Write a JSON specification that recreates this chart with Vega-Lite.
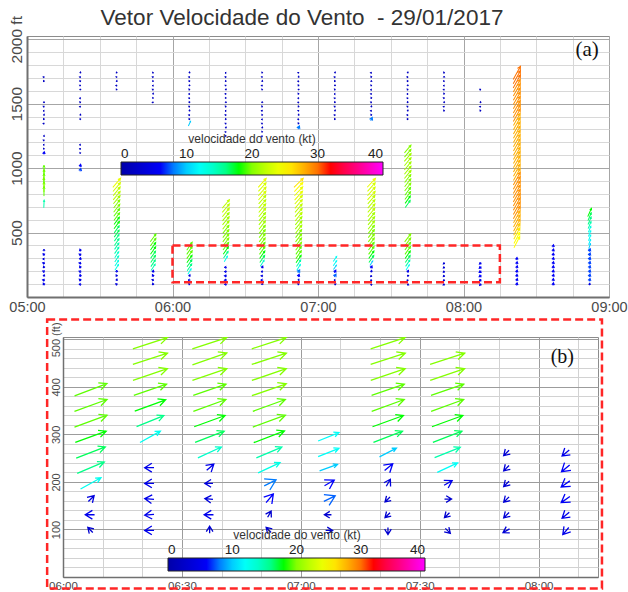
{
  "$schema": "https://vega.github.io/schema/vega-lite/v6.json",
  "background": "white",
  "padding": {"left": 6, "top": 6, "right": 0, "bottom": 0},
  "spacing": 3,
  "config": {
    "font": "Liberation Sans",
    "view": {"stroke": "#8c8c8c", "strokeWidth": 1},
    "axis": {"ticks": false, "labelFlush": false, "labelOverlap": false, "labelBound": false, "labelColor": "#4a4a4a", "domainColor": "#707070"}
  },
  "data": {
    "format": {"parse": {"t": "utc:'%H:%M'"}},
    "values": [
      {"t":"05:07","h":98,"s":5,"d":150},{"t":"05:07","h":131,"s":5,"d":100},{"t":"05:07","h":164,"s":4,"d":200},{"t":"05:07","h":197,"s":5,"d":120},{"t":"05:07","h":230,"s":4,"d":160},{"t":"05:07","h":262,"s":5,"d":110},{"t":"05:07","h":295,"s":4,"d":90},{"t":"05:07","h":328,"s":5,"d":140},{"t":"05:07","h":361,"s":4,"d":180},
      {"t":"05:07","h":722,"s":15,"d":185},{"t":"05:07","h":820,"s":19,"d":180},{"t":"05:07","h":853,"s":20,"d":180},{"t":"05:07","h":886,"s":20,"d":178},{"t":"05:07","h":919,"s":19,"d":180},{"t":"05:07","h":951,"s":20,"d":182},{"t":"05:07","h":984,"s":19,"d":180},
      {"t":"05:07","h":1115,"s":6,"d":200},{"t":"05:07","h":1148,"s":2,"d":150},{"t":"05:07","h":1181,"s":2,"d":90},{"t":"05:07","h":1214,"s":2,"d":120},{"t":"05:07","h":1247,"s":2,"d":200},{"t":"05:07","h":1345,"s":2,"d":100},{"t":"05:07","h":1378,"s":2,"d":150},{"t":"05:07","h":1411,"s":2,"d":200},{"t":"05:07","h":1444,"s":2,"d":90},{"t":"05:07","h":1476,"s":2,"d":120},{"t":"05:07","h":1509,"s":2,"d":180},{"t":"05:07","h":1673,"s":2,"d":150},{"t":"05:07","h":1706,"s":2,"d":100},
      {"t":"05:22","h":98,"s":5,"d":90},{"t":"05:22","h":131,"s":5,"d":130},{"t":"05:22","h":164,"s":5,"d":170},{"t":"05:22","h":197,"s":5,"d":110},{"t":"05:22","h":230,"s":5,"d":150},{"t":"05:22","h":262,"s":5,"d":100},{"t":"05:22","h":295,"s":5,"d":200},{"t":"05:22","h":328,"s":5,"d":120},{"t":"05:22","h":361,"s":5,"d":160},
      {"t":"05:22","h":984,"s":7,"d":210},{"t":"05:22","h":1017,"s":6,"d":200},{"t":"05:22","h":1115,"s":2,"d":150},{"t":"05:22","h":1148,"s":2,"d":120},{"t":"05:22","h":1181,"s":2,"d":90},{"t":"05:22","h":1378,"s":2,"d":160},{"t":"05:22","h":1411,"s":2,"d":200},{"t":"05:22","h":1476,"s":2,"d":110},{"t":"05:22","h":1509,"s":2,"d":140},{"t":"05:22","h":1542,"s":2,"d":90},{"t":"05:22","h":1608,"s":2,"d":180},{"t":"05:22","h":1640,"s":2,"d":120},{"t":"05:22","h":1673,"s":2,"d":150},{"t":"05:22","h":1706,"s":2,"d":100},{"t":"05:22","h":1739,"s":2,"d":200},
      {"t":"05:37","h":98,"s":4,"d":120},{"t":"05:37","h":131,"s":4,"d":200},{"t":"05:37","h":164,"s":4,"d":150},{"t":"05:37","h":197,"s":5,"d":180},
      {"t":"05:37","h":230,"s":13,"d":245},{"t":"05:37","h":262,"s":13,"d":246},{"t":"05:37","h":295,"s":14,"d":247},{"t":"05:37","h":328,"s":14,"d":248},{"t":"05:37","h":361,"s":15,"d":248},{"t":"05:37","h":394,"s":15,"d":249},{"t":"05:37","h":426,"s":16,"d":249},{"t":"05:37","h":459,"s":16,"d":250},{"t":"05:37","h":492,"s":17,"d":250},{"t":"05:37","h":525,"s":17,"d":250},{"t":"05:37","h":558,"s":18,"d":251},{"t":"05:37","h":591,"s":18,"d":251},{"t":"05:37","h":623,"s":19,"d":251},{"t":"05:37","h":656,"s":19,"d":252},{"t":"05:37","h":689,"s":20,"d":252},{"t":"05:37","h":722,"s":20,"d":252},{"t":"05:37","h":755,"s":21,"d":253},{"t":"05:37","h":787,"s":22,"d":253},{"t":"05:37","h":820,"s":22,"d":253},{"t":"05:37","h":853,"s":23,"d":254},{"t":"05:37","h":886,"s":24,"d":254},
      {"t":"05:37","h":1608,"s":2,"d":150},{"t":"05:37","h":1640,"s":2,"d":100},{"t":"05:37","h":1673,"s":2,"d":200},{"t":"05:37","h":1706,"s":2,"d":120},{"t":"05:37","h":1739,"s":2,"d":160},
      {"t":"05:52","h":98,"s":4,"d":160},{"t":"05:52","h":131,"s":4,"d":110},{"t":"05:52","h":164,"s":5,"d":150},{"t":"05:52","h":197,"s":5,"d":200},
      {"t":"05:52","h":230,"s":15,"d":246},{"t":"05:52","h":262,"s":16,"d":247},{"t":"05:52","h":295,"s":17,"d":248},{"t":"05:52","h":328,"s":17,"d":249},{"t":"05:52","h":361,"s":18,"d":250},{"t":"05:52","h":394,"s":18,"d":250},{"t":"05:52","h":426,"s":19,"d":251},{"t":"05:52","h":459,"s":19,"d":251},
      {"t":"05:52","h":1509,"s":2,"d":100},{"t":"05:52","h":1542,"s":2,"d":150},{"t":"05:52","h":1575,"s":2,"d":200},{"t":"05:52","h":1608,"s":2,"d":120},{"t":"05:52","h":1640,"s":2,"d":90},{"t":"05:52","h":1673,"s":2,"d":160},{"t":"05:52","h":1706,"s":2,"d":110},{"t":"05:52","h":1739,"s":2,"d":140},
      {"t":"06:07","h":98,"s":3,"d":135},{"t":"06:07","h":131,"s":5,"d":90},{"t":"06:07","h":164,"s":4,"d":225},{"t":"06:07","h":197,"s":12.5,"d":241},{"t":"06:07","h":230,"s":16,"d":247},{"t":"06:07","h":262,"s":17,"d":249},{"t":"06:07","h":295,"s":18,"d":250},{"t":"06:07","h":328,"s":19,"d":250},{"t":"06:07","h":361,"s":19,"d":250},{"t":"06:07","h":394,"s":19,"d":249},
      {"t":"06:07","h":1345,"s":10,"d":230},{"t":"06:07","h":1378,"s":2,"d":150},{"t":"06:07","h":1411,"s":2,"d":100},{"t":"06:07","h":1444,"s":2,"d":200},{"t":"06:07","h":1476,"s":2,"d":120},{"t":"06:07","h":1509,"s":2,"d":160},{"t":"06:07","h":1542,"s":2,"d":110},{"t":"06:07","h":1575,"s":2,"d":90},{"t":"06:07","h":1608,"s":2,"d":140},{"t":"06:07","h":1640,"s":2,"d":180},{"t":"06:07","h":1673,"s":2,"d":150},{"t":"06:07","h":1706,"s":2,"d":100},{"t":"06:07","h":1739,"s":2,"d":200},
      {"t":"06:22","h":98,"s":5,"d":90},{"t":"06:22","h":131,"s":5,"d":85},{"t":"06:22","h":164,"s":5,"d":95},{"t":"06:22","h":197,"s":5,"d":90},{"t":"06:22","h":230,"s":5,"d":90},
      {"t":"06:22","h":295,"s":12.5,"d":241},{"t":"06:22","h":328,"s":16,"d":248},{"t":"06:22","h":361,"s":18,"d":250},{"t":"06:22","h":394,"s":19,"d":251},{"t":"06:22","h":426,"s":20,"d":251},{"t":"06:22","h":459,"s":20,"d":252},{"t":"06:22","h":492,"s":20,"d":252},{"t":"06:22","h":525,"s":20,"d":252},{"t":"06:22","h":558,"s":21,"d":252},{"t":"06:22","h":591,"s":21,"d":253},{"t":"06:22","h":623,"s":21,"d":253},{"t":"06:22","h":656,"s":22,"d":253},{"t":"06:22","h":689,"s":22,"d":254},{"t":"06:22","h":722,"s":22,"d":254},
      {"t":"06:22","h":1247,"s":2,"d":150},{"t":"06:22","h":1280,"s":2,"d":100},{"t":"06:22","h":1312,"s":2,"d":200},{"t":"06:22","h":1345,"s":2,"d":120},{"t":"06:22","h":1378,"s":2,"d":160},{"t":"06:22","h":1411,"s":2,"d":110},{"t":"06:22","h":1444,"s":2,"d":90},{"t":"06:22","h":1476,"s":2,"d":140},{"t":"06:22","h":1509,"s":2,"d":180},{"t":"06:22","h":1542,"s":2,"d":150},{"t":"06:22","h":1575,"s":2,"d":100},{"t":"06:22","h":1608,"s":2,"d":200},{"t":"06:22","h":1640,"s":2,"d":120},{"t":"06:22","h":1673,"s":2,"d":160},{"t":"06:22","h":1706,"s":2,"d":110},{"t":"06:22","h":1739,"s":2,"d":90},
      {"t":"06:37","h":98,"s":3,"d":180},{"t":"06:37","h":131,"s":5,"d":90},{"t":"06:37","h":164,"s":4,"d":95},{"t":"06:37","h":197,"s":4,"d":90},{"t":"06:37","h":230,"s":5,"d":230},
      {"t":"06:37","h":262,"s":14,"d":245},{"t":"06:37","h":295,"s":17,"d":249},{"t":"06:37","h":328,"s":18,"d":250},{"t":"06:37","h":361,"s":19,"d":250},{"t":"06:37","h":394,"s":19,"d":251},{"t":"06:37","h":426,"s":20,"d":251},{"t":"06:37","h":459,"s":20,"d":251},{"t":"06:37","h":492,"s":20,"d":252},{"t":"06:37","h":525,"s":20,"d":252},{"t":"06:37","h":558,"s":21,"d":252},{"t":"06:37","h":591,"s":21,"d":253},{"t":"06:37","h":623,"s":21,"d":253},{"t":"06:37","h":656,"s":22,"d":253},{"t":"06:37","h":689,"s":22,"d":253},{"t":"06:37","h":722,"s":22,"d":254},{"t":"06:37","h":755,"s":22,"d":254},{"t":"06:37","h":787,"s":23,"d":254},{"t":"06:37","h":820,"s":23,"d":255},{"t":"06:37","h":853,"s":23,"d":255},{"t":"06:37","h":886,"s":24,"d":255},
      {"t":"06:37","h":1247,"s":2,"d":100},{"t":"06:37","h":1280,"s":2,"d":150},{"t":"06:37","h":1312,"s":2,"d":200},{"t":"06:37","h":1345,"s":2,"d":120},{"t":"06:37","h":1378,"s":2,"d":90},{"t":"06:37","h":1411,"s":2,"d":160},{"t":"06:37","h":1444,"s":2,"d":110},{"t":"06:37","h":1476,"s":2,"d":140},{"t":"06:37","h":1509,"s":2,"d":180},{"t":"06:37","h":1608,"s":2,"d":150},{"t":"06:37","h":1640,"s":2,"d":100},{"t":"06:37","h":1673,"s":2,"d":200},{"t":"06:37","h":1706,"s":2,"d":120},{"t":"06:37","h":1739,"s":2,"d":160},
      {"t":"06:52","h":98,"s":3,"d":135},{"t":"06:52","h":131,"s":3,"d":210},{"t":"06:52","h":164,"s":6.5,"d":220},{"t":"06:52","h":197,"s":8,"d":243},{"t":"06:52","h":230,"s":13,"d":245},{"t":"06:52","h":262,"s":15,"d":247},
      {"t":"06:52","h":295,"s":18,"d":249},{"t":"06:52","h":328,"s":19,"d":250},{"t":"06:52","h":361,"s":19,"d":250},{"t":"06:52","h":394,"s":20,"d":251},{"t":"06:52","h":426,"s":20,"d":251},{"t":"06:52","h":459,"s":20,"d":252},{"t":"06:52","h":492,"s":20,"d":252},{"t":"06:52","h":525,"s":21,"d":252},{"t":"06:52","h":558,"s":21,"d":253},{"t":"06:52","h":591,"s":21,"d":253},{"t":"06:52","h":623,"s":22,"d":253},{"t":"06:52","h":656,"s":22,"d":254},{"t":"06:52","h":689,"s":22,"d":254},{"t":"06:52","h":722,"s":23,"d":254},{"t":"06:52","h":755,"s":23,"d":255},{"t":"06:52","h":787,"s":24,"d":255},{"t":"06:52","h":820,"s":24,"d":256},{"t":"06:52","h":853,"s":25,"d":256},{"t":"06:52","h":886,"s":26,"d":258},
      {"t":"06:52","h":1312,"s":8,"d":230},{"t":"06:52","h":1345,"s":2,"d":150},{"t":"06:52","h":1378,"s":2,"d":100},{"t":"06:52","h":1411,"s":2,"d":200},{"t":"06:52","h":1444,"s":2,"d":120},{"t":"06:52","h":1476,"s":2,"d":160},{"t":"06:52","h":1509,"s":2,"d":110},{"t":"06:52","h":1542,"s":2,"d":90},{"t":"06:52","h":1575,"s":2,"d":140},{"t":"06:52","h":1608,"s":2,"d":180},{"t":"06:52","h":1640,"s":2,"d":150},{"t":"06:52","h":1673,"s":2,"d":100},{"t":"06:52","h":1706,"s":2,"d":200},{"t":"06:52","h":1739,"s":2,"d":120},
      {"t":"07:07","h":98,"s":3,"d":270},{"t":"07:07","h":131,"s":3,"d":90},{"t":"07:07","h":164,"s":7.5,"d":244},{"t":"07:07","h":197,"s":6.5,"d":240},{"t":"07:07","h":230,"s":10,"d":250},{"t":"07:07","h":262,"s":12,"d":248},{"t":"07:07","h":295,"s":12,"d":248},
      {"t":"07:07","h":1378,"s":2,"d":150},{"t":"07:07","h":1411,"s":2,"d":100},{"t":"07:07","h":1444,"s":2,"d":200},{"t":"07:07","h":1476,"s":2,"d":120},{"t":"07:07","h":1509,"s":2,"d":160},{"t":"07:07","h":1542,"s":2,"d":110},{"t":"07:07","h":1575,"s":2,"d":90},{"t":"07:07","h":1608,"s":2,"d":140},{"t":"07:07","h":1640,"s":2,"d":180},{"t":"07:07","h":1673,"s":2,"d":150},{"t":"07:07","h":1706,"s":2,"d":100},{"t":"07:07","h":1739,"s":2,"d":200},
      {"t":"07:22","h":98,"s":3,"d":0},{"t":"07:22","h":131,"s":3,"d":45},{"t":"07:22","h":164,"s":3,"d":45},{"t":"07:22","h":197,"s":4,"d":210},{"t":"07:22","h":230,"s":6,"d":230},{"t":"07:22","h":262,"s":10,"d":243},
      {"t":"07:22","h":295,"s":17,"d":249},{"t":"07:22","h":328,"s":18,"d":250},{"t":"07:22","h":361,"s":19,"d":250},{"t":"07:22","h":394,"s":19,"d":251},{"t":"07:22","h":426,"s":20,"d":251},{"t":"07:22","h":459,"s":20,"d":252},{"t":"07:22","h":492,"s":20,"d":252},{"t":"07:22","h":525,"s":20,"d":252},{"t":"07:22","h":558,"s":21,"d":252},{"t":"07:22","h":591,"s":21,"d":253},{"t":"07:22","h":623,"s":21,"d":253},{"t":"07:22","h":656,"s":22,"d":253},{"t":"07:22","h":689,"s":22,"d":254},{"t":"07:22","h":722,"s":22,"d":254},{"t":"07:22","h":755,"s":22,"d":254},{"t":"07:22","h":787,"s":23,"d":255},{"t":"07:22","h":820,"s":23,"d":255},{"t":"07:22","h":853,"s":23,"d":255},{"t":"07:22","h":886,"s":24,"d":256},
      {"t":"07:22","h":1378,"s":8,"d":230},{"t":"07:22","h":1411,"s":2,"d":150},{"t":"07:22","h":1444,"s":2,"d":100},{"t":"07:22","h":1476,"s":2,"d":200},{"t":"07:22","h":1509,"s":2,"d":120},{"t":"07:22","h":1542,"s":2,"d":160},{"t":"07:22","h":1575,"s":2,"d":110},{"t":"07:22","h":1608,"s":2,"d":90},{"t":"07:22","h":1640,"s":2,"d":140},{"t":"07:22","h":1673,"s":2,"d":180},{"t":"07:22","h":1706,"s":2,"d":150},{"t":"07:22","h":1739,"s":2,"d":100},
      {"t":"07:37","h":98,"s":3,"d":315},{"t":"07:37","h":131,"s":3,"d":45},{"t":"07:37","h":164,"s":3,"d":270},{"t":"07:37","h":197,"s":5,"d":240},{"t":"07:37","h":230,"s":12,"d":245},{"t":"07:37","h":262,"s":15,"d":248},
      {"t":"07:37","h":295,"s":17,"d":249},{"t":"07:37","h":328,"s":18,"d":250},{"t":"07:37","h":361,"s":19,"d":250},{"t":"07:37","h":394,"s":19,"d":251},{"t":"07:37","h":426,"s":20,"d":251},{"t":"07:37","h":459,"s":20,"d":252},
      {"t":"07:37","h":722,"s":17,"d":250},{"t":"07:37","h":755,"s":18,"d":250},{"t":"07:37","h":787,"s":19,"d":251},{"t":"07:37","h":820,"s":19,"d":251},{"t":"07:37","h":853,"s":20,"d":252},{"t":"07:37","h":886,"s":20,"d":252},{"t":"07:37","h":919,"s":20,"d":252},{"t":"07:37","h":951,"s":21,"d":253},{"t":"07:37","h":984,"s":21,"d":253},{"t":"07:37","h":1017,"s":21,"d":253},{"t":"07:37","h":1050,"s":21,"d":253},{"t":"07:37","h":1083,"s":21,"d":254},{"t":"07:37","h":1115,"s":20,"d":254},{"t":"07:37","h":1148,"s":20,"d":254},
      {"t":"07:37","h":1378,"s":2,"d":150},{"t":"07:37","h":1411,"s":2,"d":100},{"t":"07:37","h":1444,"s":2,"d":200},{"t":"07:37","h":1476,"s":2,"d":120},{"t":"07:37","h":1509,"s":2,"d":160},{"t":"07:37","h":1542,"s":2,"d":110},{"t":"07:37","h":1575,"s":2,"d":90},{"t":"07:37","h":1608,"s":2,"d":140},{"t":"07:37","h":1640,"s":2,"d":180},{"t":"07:37","h":1673,"s":2,"d":150},{"t":"07:37","h":1706,"s":2,"d":100},{"t":"07:37","h":1739,"s":2,"d":200},
      {"t":"07:52","h":98,"s":3.5,"d":60},{"t":"07:52","h":131,"s":3.5,"d":45},{"t":"07:52","h":164,"s":3.5,"d":45},{"t":"07:52","h":197,"s":3.5,"d":45},{"t":"07:52","h":230,"s":3.5,"d":45},{"t":"07:52","h":262,"s":3.5,"d":45},
      {"t":"07:52","h":1444,"s":2,"d":150},{"t":"07:52","h":1476,"s":2,"d":100},{"t":"07:52","h":1509,"s":2,"d":200},{"t":"07:52","h":1542,"s":2,"d":120},{"t":"07:52","h":1575,"s":2,"d":160},{"t":"07:52","h":1608,"s":2,"d":110},{"t":"07:52","h":1640,"s":2,"d":90},{"t":"07:52","h":1673,"s":2,"d":140},{"t":"07:52","h":1706,"s":2,"d":180},{"t":"07:52","h":1739,"s":2,"d":150},
      {"t":"08:07","h":98,"s":5,"d":40},{"t":"08:07","h":131,"s":5,"d":50},{"t":"08:07","h":164,"s":6,"d":55},{"t":"08:07","h":197,"s":6,"d":55},{"t":"08:07","h":230,"s":6,"d":50},{"t":"08:07","h":262,"s":5,"d":50},
      {"t":"08:07","h":1444,"s":2,"d":150},{"t":"08:07","h":1476,"s":2,"d":100},{"t":"08:07","h":1509,"s":2,"d":200},{"t":"08:07","h":1608,"s":2,"d":120},
      {"t":"08:22","h":98,"s":6,"d":200},{"t":"08:22","h":131,"s":6,"d":210},{"t":"08:22","h":164,"s":6,"d":190},{"t":"08:22","h":197,"s":6,"d":200},{"t":"08:22","h":230,"s":6,"d":210},{"t":"08:22","h":262,"s":6,"d":200},{"t":"08:22","h":295,"s":6,"d":190},
      {"t":"08:22","h":426,"s":25,"d":235},{"t":"08:22","h":459,"s":25,"d":235},{"t":"08:22","h":492,"s":26,"d":236},{"t":"08:22","h":525,"s":27,"d":236},{"t":"08:22","h":558,"s":28,"d":236},{"t":"08:22","h":591,"s":28,"d":237},{"t":"08:22","h":623,"s":28,"d":237},{"t":"08:22","h":656,"s":29,"d":237},{"t":"08:22","h":689,"s":29,"d":237},{"t":"08:22","h":722,"s":29,"d":238},{"t":"08:22","h":755,"s":29,"d":238},{"t":"08:22","h":787,"s":29,"d":238},{"t":"08:22","h":820,"s":29,"d":238},{"t":"08:22","h":853,"s":29,"d":238},{"t":"08:22","h":886,"s":29,"d":238},{"t":"08:22","h":919,"s":29,"d":238},{"t":"08:22","h":951,"s":28,"d":238},{"t":"08:22","h":984,"s":28,"d":238},{"t":"08:22","h":1017,"s":28,"d":238},{"t":"08:22","h":1050,"s":28,"d":238},{"t":"08:22","h":1083,"s":28,"d":238},{"t":"08:22","h":1115,"s":28,"d":238},{"t":"08:22","h":1148,"s":28,"d":238},{"t":"08:22","h":1181,"s":28,"d":238},{"t":"08:22","h":1214,"s":28,"d":238},{"t":"08:22","h":1247,"s":28,"d":238},{"t":"08:22","h":1280,"s":28,"d":238},{"t":"08:22","h":1312,"s":28,"d":238},{"t":"08:22","h":1345,"s":28,"d":238},{"t":"08:22","h":1378,"s":28,"d":238},{"t":"08:22","h":1411,"s":29,"d":238},{"t":"08:22","h":1444,"s":29,"d":238},{"t":"08:22","h":1476,"s":29,"d":238},{"t":"08:22","h":1509,"s":29,"d":238},{"t":"08:22","h":1542,"s":29,"d":238},{"t":"08:22","h":1575,"s":29,"d":238},{"t":"08:22","h":1608,"s":29,"d":238},{"t":"08:22","h":1640,"s":29,"d":238},{"t":"08:22","h":1673,"s":30,"d":238},{"t":"08:22","h":1706,"s":30,"d":238},{"t":"08:22","h":1739,"s":30,"d":238},
      {"t":"08:37","h":98,"s":6,"d":200},{"t":"08:37","h":131,"s":6,"d":190},{"t":"08:37","h":164,"s":6,"d":210},{"t":"08:37","h":197,"s":6,"d":200},{"t":"08:37","h":230,"s":6,"d":195},{"t":"08:37","h":262,"s":6,"d":205},{"t":"08:37","h":295,"s":6,"d":200},{"t":"08:37","h":328,"s":6,"d":190},{"t":"08:37","h":361,"s":6,"d":210},{"t":"08:37","h":394,"s":6,"d":200},
      {"t":"08:52","h":98,"s":4,"d":200},{"t":"08:52","h":131,"s":7,"d":210},{"t":"08:52","h":164,"s":7,"d":210},{"t":"08:52","h":197,"s":7,"d":215},{"t":"08:52","h":230,"s":7,"d":215},{"t":"08:52","h":262,"s":7,"d":215},{"t":"08:52","h":295,"s":7,"d":220},{"t":"08:52","h":328,"s":7,"d":220},{"t":"08:52","h":361,"s":7,"d":220},{"t":"08:52","h":394,"s":10,"d":220},{"t":"08:52","h":426,"s":11,"d":222},{"t":"08:52","h":459,"s":12,"d":222},{"t":"08:52","h":492,"s":12,"d":224},{"t":"08:52","h":525,"s":13,"d":224},{"t":"08:52","h":558,"s":15,"d":225},{"t":"08:52","h":591,"s":16,"d":226},{"t":"08:52","h":623,"s":17,"d":226},{"t":"08:52","h":656,"s":18,"d":228}
    ]
  },
  "vconcat": [
    {
      "width": 582,
      "height": 261,
      "title": {"text": "Vetor Velocidade do Vento\u00a0 - 29/01/2017", "font": "Liberation Sans", "fontSize": 22.5, "fontWeight": "normal", "color": "#333333", "anchor": "middle", "offset": -14, "dx": -16},
      "layer": [
        {
          "transform": [{"filter": "datum.s >= 9"}],
          "mark": {"type": "point", "shape": "M-1,0L1,0M0.55,-0.22L1,0L0.55,0.22", "filled": false, "strokeWidth": 1, "opacity": 1, "clip": true},
          "encoding": {
            "x": {"field": "t", "type": "temporal", "scale": {"type": "utc", "nice": false, "domain": [{"year": 1900, "month": 1, "date": 1, "hours": 5, "minutes": 0, "utc": true}, {"year": 1900, "month": 1, "date": 1, "hours": 9, "minutes": 0, "utc": true}]},
              "axis": {"orient": "bottom", "title": null, "format": "%H:%M",
                "values": [{"year": 1900, "month": 1, "date": 1, "hours": 5, "utc": true}, {"year": 1900, "month": 1, "date": 1, "hours": 6, "utc": true}, {"year": 1900, "month": 1, "date": 1, "hours": 7, "utc": true}, {"year": 1900, "month": 1, "date": 1, "hours": 8, "utc": true}, {"year": 1900, "month": 1, "date": 1, "hours": 9, "utc": true}],
                "labelFlush": false, "labelOverlap": false, "labelFontSize": 14.5, "labelPadding": 3, "domainWidth": 2, "grid": true, "gridColor": "#a6a6a6"}},
            "y": {"field": "h", "type": "quantitative", "scale": {"domain": [0, 2025], "nice": false},
              "axis": {"orient": "left", "title": null, "format": "d", "values": [500, 1000, 1500, 2000], "labelExpr": "datum.value == 2000 ? '2000 ft' : datum.label", "labelAngle": 270, "labelAlign": "center", "labelFlush": false, "labelOverlap": false, "labelFontSize": 15.5, "labelPadding": 3, "minExtent": 20, "maxExtent": 20, "domainWidth": 2, "grid": true, "gridColor": "#a6a6a6"}},
            "stroke": {"field": "s", "type": "quantitative",
              "scale": {"domain": [0, 6.5, 11.5, 18, 25, 32, 40], "range": ["#000000", "#0000ff", "#00ffff", "#00ff00", "#ffff00", "#ff0000", "#ff00ff"]},
              "legend": {"orient": "none", "legendX": 94, "legendY": 98, "direction": "horizontal", "padding": 0, "title": "velocidade do vento (kt)", "titleFontSize": 12, "titleFontWeight": "normal", "titleColor": "#333333", "titleAnchor": "middle", "titlePadding": 16, "gradientLength": 262, "gradientThickness": 13, "gradientStrokeColor": "#222222", "gradientStrokeWidth": 1, "values": [0, 10, 20, 30, 40], "labelFontSize": 13.5, "labelColor": "#222222", "labelOffset": -28, "labelAlign": "center"}},
            "size": {"field": "s", "type": "quantitative", "scale": {"type": "pow", "exponent": 2, "domain": [0, 40], "range": [2, 400]}, "legend": null},
            "angle": {"field": "d", "type": "quantitative", "scale": {"domain": [0, 180, 250, 360], "range": [90, 270, 305, 450]}, "legend": null}
          }
        },
        {
          "transform": [{"filter": "datum.s < 9"}],
          "mark": {"type": "point", "shape": "M-0.7,0L1,0M-0.3,-0.8L1,0L-0.3,0.8", "filled": false, "strokeWidth": 1, "opacity": 1, "clip": true},
          "encoding": {
            "x": {"field": "t", "type": "temporal", "axis": null},
            "y": {"field": "h", "type": "quantitative", "axis": null},
            "stroke": {"field": "s", "type": "quantitative"},
            "size": {"field": "s", "type": "quantitative"},
            "angle": {"field": "d", "type": "quantitative"}
          }
        },
        {
          "data": {"values": [{"t0": "06:00", "t1": "08:15", "h0": 115, "h1": 400}], "format": {"parse": {"t0": "utc:'%H:%M'", "t1": "utc:'%H:%M'"}}},
          "mark": {"type": "rect", "fill": "transparent", "stroke": "#ff2626", "strokeWidth": 2.5, "strokeDash": [8, 4]},
          "encoding": {
            "x": {"field": "t0", "type": "temporal",
              "axis": {"orient": "top", "title": null, "labels": false, "domain": false, "minExtent": 0, "maxExtent": 0, "grid": true, "gridColor": "#d8d8d8",
                "values": [{"year": 1900, "month": 1, "date": 1, "hours": 5, "minutes": 15, "utc": true}, {"year": 1900, "month": 1, "date": 1, "hours": 5, "minutes": 30, "utc": true}, {"year": 1900, "month": 1, "date": 1, "hours": 5, "minutes": 45, "utc": true}, {"year": 1900, "month": 1, "date": 1, "hours": 6, "minutes": 15, "utc": true}, {"year": 1900, "month": 1, "date": 1, "hours": 6, "minutes": 30, "utc": true}, {"year": 1900, "month": 1, "date": 1, "hours": 6, "minutes": 45, "utc": true}, {"year": 1900, "month": 1, "date": 1, "hours": 7, "minutes": 15, "utc": true}, {"year": 1900, "month": 1, "date": 1, "hours": 7, "minutes": 30, "utc": true}, {"year": 1900, "month": 1, "date": 1, "hours": 7, "minutes": 45, "utc": true}, {"year": 1900, "month": 1, "date": 1, "hours": 8, "minutes": 15, "utc": true}, {"year": 1900, "month": 1, "date": 1, "hours": 8, "minutes": 30, "utc": true}, {"year": 1900, "month": 1, "date": 1, "hours": 8, "minutes": 45, "utc": true}]}},
            "x2": {"field": "t1"},
            "y": {"field": "h0", "type": "quantitative",
              "axis": {"orient": "right", "title": null, "labels": false, "domain": false, "minExtent": 0, "maxExtent": 0, "grid": true, "gridColor": "#d8d8d8", "values": [100,200,300,400,600,700,800,900,1100,1200,1300,1400,1600,1700,1800,1900]}},
            "y2": {"field": "h1"}
          }
        },
        {
          "data": {"values": [{"t": "08:51", "h": 1917, "label": "(a)"}], "format": {"parse": {"t": "utc:'%H:%M'"}}},
          "mark": {"type": "text", "font": "Liberation Serif", "fontSize": 21, "color": "#111111"},
          "encoding": {
            "x": {"field": "t", "type": "temporal", "axis": null},
            "y": {"field": "h", "type": "quantitative", "axis": null},
            "text": {"field": "label"}
          }
        }
      ],
      "resolve": {"axis": {"x": "independent", "y": "independent"}}
    },
    {
      "spacing": 16,
      "hconcat": [
        {
          "width": 2,
          "height": 1,
          "view": {"stroke": null},
          "data": {"values": [{"k": 0}]},
          "mark": {"type": "point", "size": 0, "opacity": 0},
          "encoding": {}
        },
        {
          "width": 535,
          "height": 240,
          "layer": [
            {
              "data": {"values": [{"t0": "05:56", "t1": "08:16", "h0": -24, "h1": 542}], "format": {"parse": {"t0": "utc:'%H:%M'", "t1": "utc:'%H:%M'"}}},
              "mark": {"type": "rect", "fill": "transparent", "stroke": "#ff2626", "strokeWidth": 2.5, "strokeDash": [8, 4]},
              "encoding": {
                "x": {"field": "t0", "type": "temporal", "scale": {"type": "utc", "nice": false, "domain": [{"year": 1900, "month": 1, "date": 1, "hours": 6, "minutes": 0, "utc": true}, {"year": 1900, "month": 1, "date": 1, "hours": 8, "minutes": 15, "utc": true}]},
                  "axis": {"orient": "bottom", "title": null, "format": "%H:%M",
                    "values": [{"year": 1900, "month": 1, "date": 1, "hours": 6, "minutes": 0, "utc": true}, {"year": 1900, "month": 1, "date": 1, "hours": 6, "minutes": 30, "utc": true}, {"year": 1900, "month": 1, "date": 1, "hours": 7, "minutes": 0, "utc": true}, {"year": 1900, "month": 1, "date": 1, "hours": 7, "minutes": 30, "utc": true}, {"year": 1900, "month": 1, "date": 1, "hours": 8, "minutes": 0, "utc": true}],
                    "labelFlush": false, "labelOverlap": false, "labelFontSize": 11.5, "labelPadding": 3, "domainWidth": 1.5, "grid": true, "gridColor": "#9c9c9c"}},
                "x2": {"field": "t1"},
                "y": {"field": "h0", "type": "quantitative", "scale": {"domain": [0, 505], "nice": false},
                  "axis": {"orient": "left", "title": null, "format": "d", "values": [100, 200, 300, 400, 500], "labelExpr": "datum.value == 500 ? '500 (ft)' : datum.label", "labelAngle": 270, "labelAlign": "center", "labelFlush": false, "labelOverlap": false, "labelFontSize": 11, "labelPadding": 2, "minExtent": 0, "domainWidth": 1.5, "grid": true, "gridColor": "#9c9c9c"}},
                "y2": {"field": "h1"}
              }
            },
            {
              "transform": [{"filter": "datum.s >= 9"}],
              "mark": {"type": "point", "shape": "M-1,0L1,0M0.55,-0.22L1,0L0.55,0.22", "filled": false, "strokeWidth": 1.3, "opacity": 1, "clip": true},
              "encoding": {
                "x": {"field": "t", "type": "temporal",
                  "axis": {"orient": "top", "title": null, "labels": false, "domain": false, "minExtent": 0, "maxExtent": 0, "grid": true, "gridColor": "#d2d2d2",
                    "values": [{"year": 1900, "month": 1, "date": 1, "hours": 6, "minutes": 10, "utc": true}, {"year": 1900, "month": 1, "date": 1, "hours": 6, "minutes": 20, "utc": true}, {"year": 1900, "month": 1, "date": 1, "hours": 6, "minutes": 40, "utc": true}, {"year": 1900, "month": 1, "date": 1, "hours": 6, "minutes": 50, "utc": true}, {"year": 1900, "month": 1, "date": 1, "hours": 7, "minutes": 10, "utc": true}, {"year": 1900, "month": 1, "date": 1, "hours": 7, "minutes": 20, "utc": true}, {"year": 1900, "month": 1, "date": 1, "hours": 7, "minutes": 40, "utc": true}, {"year": 1900, "month": 1, "date": 1, "hours": 7, "minutes": 50, "utc": true}, {"year": 1900, "month": 1, "date": 1, "hours": 8, "minutes": 10, "utc": true}]}},
                "y": {"field": "h", "type": "quantitative",
                  "axis": {"orient": "right", "title": null, "labels": false, "domain": false, "minExtent": 0, "maxExtent": 0, "grid": true, "gridColor": "#d2d2d2", "values": [20,40,60,80,120,140,160,180,220,240,260,280,320,340,360,380,420,440,460,480]}},
                "stroke": {"field": "s", "type": "quantitative",
                  "scale": {"domain": [0, 6.5, 11.5, 18, 25, 32, 40], "range": ["#000000", "#0000ff", "#00ffff", "#00ff00", "#ffff00", "#ff0000", "#ff00ff"]},
                  "legend": {"orient": "none", "legendX": 141, "legendY": 193, "direction": "horizontal", "padding": 0, "title": "velocidade do vento (kt)", "titleFontSize": 12, "titleFontWeight": "normal", "titleColor": "#333333", "titleAnchor": "middle", "titlePadding": 16, "gradientLength": 257, "gradientThickness": 13, "gradientStrokeColor": "#222222", "gradientStrokeWidth": 1, "values": [0, 10, 20, 30, 40], "labelFontSize": 13.5, "labelColor": "#222222", "labelOffset": -28, "labelAlign": "center"}},
                "size": {"field": "s", "type": "quantitative", "scale": {"type": "pow", "exponent": 2, "domain": [0, 40], "range": [40, 5184]}, "legend": null},
                "angle": {"field": "d", "type": "quantitative", "scale": {"domain": [0, 360], "range": [90, 450]}, "legend": null}
              }
            },
            {
              "transform": [{"filter": "datum.s < 9"}],
              "mark": {"type": "point", "shape": "M-0.7,0L1,0M-0.3,-0.8L1,0L-0.3,0.8", "filled": false, "strokeWidth": 1.3, "opacity": 1, "clip": true},
              "encoding": {
                "x": {"field": "t", "type": "temporal", "axis": null},
                "y": {"field": "h", "type": "quantitative", "axis": null},
                "stroke": {"field": "s", "type": "quantitative"},
                "size": {"field": "s", "type": "quantitative"},
                "angle": {"field": "d", "type": "quantitative"}
              }
            },
            {
              "data": {"values": [{"t": "08:06", "h": 463, "label": "(b)"}], "format": {"parse": {"t": "utc:'%H:%M'"}}},
              "mark": {"type": "text", "font": "Liberation Serif", "fontSize": 20, "color": "#111111"},
              "encoding": {
                "x": {"field": "t", "type": "temporal", "axis": null},
                "y": {"field": "h", "type": "quantitative", "axis": null},
                "text": {"field": "label"}
              }
            }
          ],
          "resolve": {"axis": {"x": "independent", "y": "independent"}}
        }
      ]
    }
  ],
  "resolve": {"scale": {"stroke": "independent", "size": "independent", "angle": "independent"}, "legend": {"stroke": "independent"}}
}
